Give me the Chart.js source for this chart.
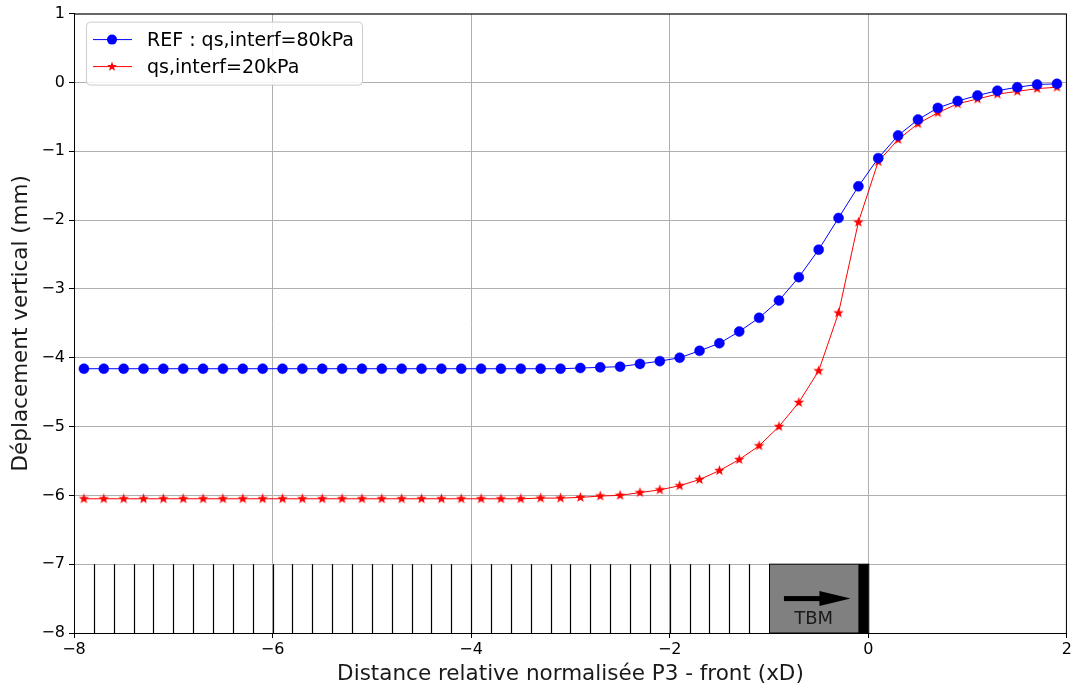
<!DOCTYPE html>
<html lang="fr">
<head>
<meta charset="utf-8">
<title>Déplacement vertical</title>
<script src="https://cdn.jsdelivr.net/npm/chart.js@4.4.1/dist/chart.umd.min.js"></script>
<style>
  html, body { margin: 0; padding: 0; background: #fff; }
  canvas { display: block; }
</style>
</head>
<body>
<canvas id="grafico" width="1074" height="687"></canvas>
<script>
// Abscisses des points (xD)
const distances = [
    -7.9, -7.7, -7.5, -7.3, -7.1, -6.9, -6.7, -6.5, -6.3, -6.1,
    -5.9, -5.7, -5.5, -5.3, -5.1, -4.9, -4.7, -4.5, -4.3, -4.1,
    -3.9, -3.7, -3.5, -3.3, -3.1, -2.9, -2.7, -2.5, -2.3, -2.1,
    -1.9, -1.7, -1.5, -1.3, -1.1, -0.9, -0.7, -0.5, -0.3, -0.1,
    0.1, 0.3, 0.5, 0.7, 0.9, 1.1, 1.3, 1.5, 1.7, 1.9
];

// REF : qs,interf=80kPa
const depRef = [
    -4.16, -4.16, -4.16, -4.16, -4.16, -4.16, -4.16, -4.16, -4.16, -4.16,
    -4.16, -4.16, -4.16, -4.16, -4.16, -4.16, -4.16, -4.16, -4.16, -4.16,
    -4.16, -4.16, -4.16, -4.16, -4.16, -4.15, -4.14, -4.13, -4.09, -4.05,
    -4.00, -3.90, -3.79, -3.62, -3.42, -3.17, -2.83, -2.43, -1.97, -1.51,
    -1.10, -0.77, -0.54, -0.37, -0.27, -0.19, -0.12, -0.07, -0.03, -0.02
];

// qs,interf=20kPa
const depInterf = [
    -6.05, -6.05, -6.05, -6.05, -6.05, -6.05, -6.05, -6.05, -6.05, -6.05,
    -6.05, -6.05, -6.05, -6.05, -6.05, -6.05, -6.05, -6.05, -6.05, -6.05,
    -6.05, -6.05, -6.05, -6.04, -6.04, -6.03, -6.01, -6.00, -5.96, -5.92,
    -5.86, -5.77, -5.64, -5.48, -5.28, -5.00, -4.65, -4.19, -3.35, -2.03,
    -1.15, -0.83, -0.60, -0.44, -0.31, -0.24, -0.17, -0.13, -0.09, -0.07
];

const nomsSeries = ["REF : qs,interf=80kPa", "qs,interf=20kPa"];
const ticksX = [-8, -6, -4, -2, 0, 2];
const ticksY = [1, 0, -1, -2, -3, -4, -5, -6, -7, -8];

// Voussoirs derrière le tunnelier
const hachures = [
    -7.8, -7.6, -7.4, -7.2, -7.0, -6.8, -6.6, -6.4, -6.2, -6.0,
    -5.8, -5.6, -5.4, -5.2, -5.0, -4.8, -4.6, -4.4, -4.2, -4.0,
    -3.8, -3.6, -3.4, -3.2, -3.0, -2.8, -2.6, -2.4, -2.2, -2.0,
    -1.8, -1.6, -1.4, -1.2
];
const tbm = { debut: -1, fin: 0, bouclier: -0.1, bas: -8, haut: -7 };
const fleche = { x1: -0.85, x2: -0.18, y: -7.5 };

const police = "'DejaVu Sans', sans-serif";

function moins(v) {
    return String(v).replace("-", "\u2212");
}

function creerEtoile(rayon, couleur) {
    const c = document.createElement("canvas");
    const taille = Math.ceil(rayon * 2 + 2);
    c.width = taille;
    c.height = taille;
    const g = c.getContext("2d");
    tracerEtoile(g, taille / 2, taille / 2, rayon, couleur);
    return c;
}

function tracerEtoile(g, cx, cy, r, couleur) {
    g.beginPath();
    for (let i = 0; i < 10; i++) {
        const rr = i % 2 === 0 ? r : r * 0.42;
        const a = -Math.PI / 2 + i * Math.PI / 5;
        const px = cx + rr * Math.cos(a);
        const py = cy + rr * Math.sin(a);
        if (i === 0) g.moveTo(px, py); else g.lineTo(px, py);
    }
    g.closePath();
    g.fillStyle = couleur;
    g.fill();
}

const etoile = creerEtoile(5.5, "#ff0000");

const decor = {
    id: "decor",
    beforeDatasetsDraw(chart) {
        const { ctx, scales: { x, y } } = chart;
        const yb = y.getPixelForValue(tbm.bas);
        const yh = y.getPixelForValue(tbm.haut);
        ctx.save();
        // hachures
        ctx.strokeStyle = "#000";
        ctx.lineWidth = 1.2;
        hachures.forEach(v => {
            const px = Math.round(x.getPixelForValue(v)) + 0.5;
            ctx.beginPath();
            ctx.moveTo(px, yh);
            ctx.lineTo(px, yb);
            ctx.stroke();
        });
        // tunnelier
        const x0 = x.getPixelForValue(tbm.debut);
        const x1 = x.getPixelForValue(tbm.fin);
        ctx.fillStyle = "#808080";
        ctx.fillRect(x0, yh, x1 - x0, yb - yh);
        ctx.strokeStyle = "#000";
        ctx.lineWidth = 1;
        ctx.strokeRect(Math.round(x0) + 0.5, yh, x1 - x0, yb - yh);
        const xb = x.getPixelForValue(tbm.bouclier);
        ctx.fillStyle = "#000";
        ctx.fillRect(xb, yh, x1 - xb, yb - yh);
        // flèche
        const fa = x.getPixelForValue(fleche.x1);
        const fb = x.getPixelForValue(fleche.x2);
        const fy = y.getPixelForValue(fleche.y);
        ctx.fillRect(fa, fy - 2.5, fb - fa - 30, 5);
        ctx.beginPath();
        ctx.moveTo(fb - 31, fy - 7.5);
        ctx.lineTo(fb, fy);
        ctx.lineTo(fb - 31, fy + 7.5);
        ctx.closePath();
        ctx.fill();
        ctx.font = "18px " + police;
        ctx.textAlign = "center";
        ctx.textBaseline = "middle";
        ctx.fillStyle = "#1a1a1a";
        ctx.fillText("TBM", x.getPixelForValue(-0.55), y.getPixelForValue(-7.8));
        ctx.restore();
    },
    afterDraw(chart) {
        const { ctx, chartArea: a } = chart;
        ctx.save();
        // cadre
        ctx.strokeStyle = "#000";
        ctx.lineWidth = 1;
        ctx.strokeRect(a.left + 0.5, a.top + 0.5, a.right - a.left - 1, a.bottom - a.top);
        // légende
        const lx = a.left + 12, ly = a.top + 8, lw = 276, lh = 63;
        ctx.beginPath();
        ctx.roundRect(lx + 0.5, ly + 0.5, lw, lh, 4);
        ctx.fillStyle = "rgba(255,255,255,0.85)";
        ctx.fill();
        ctx.strokeStyle = "#cccccc";
        ctx.stroke();
        const lignes = [
            { y: ly + 18, couleur: "#0000ff", marque: "rond" },
            { y: ly + 45, couleur: "#ff0000", marque: "etoile" }
        ];
        lignes.forEach((l, i) => {
            ctx.strokeStyle = l.couleur;
            ctx.lineWidth = 1;
            ctx.beginPath();
            ctx.moveTo(lx + 7, l.y);
            ctx.lineTo(lx + 46, l.y);
            ctx.stroke();
            if (l.marque === "rond") {
                ctx.beginPath();
                ctx.arc(lx + 26, l.y, 5, 0, Math.PI * 2);
                ctx.fillStyle = l.couleur;
                ctx.fill();
            } else {
                tracerEtoile(ctx, lx + 26, l.y, 5, l.couleur);
            }
            ctx.fillStyle = "#000";
            ctx.font = "19px " + police;
            ctx.textAlign = "left";
            ctx.textBaseline = "middle";
            ctx.fillText(nomsSeries[i], lx + 61, l.y + 1);
        });
        ctx.restore();
    }
};

function desenharGrafico() {
    const ctx = document.getElementById("grafico").getContext("2d");
    new Chart(ctx, {
        type: "line",
        data: {
            datasets: [{
                label: nomsSeries[0],
                data: distances.map((d, i) => ({ x: d, y: depRef[i] })),
                borderColor: "#0000ff",
                backgroundColor: "#0000ff",
                borderWidth: 1,
                pointRadius: 5,
                pointBorderWidth: 0.5,
                pointBackgroundColor: "#0000ff",
                pointBorderColor: "#0000ff",
                tension: 0
            }, {
                label: nomsSeries[1],
                data: distances.map((d, i) => ({ x: d, y: depInterf[i] })),
                borderColor: "#ff0000",
                backgroundColor: "#ff0000",
                borderWidth: 1,
                pointStyle: etoile,
                tension: 0
            }]
        },
        options: {
            responsive: false,
            animation: false,
            devicePixelRatio: 1,
            layout: { padding: { left: 0, top: 12, right: 6, bottom: 0 } },
            plugins: {
                legend: { display: false },
                tooltip: { enabled: false }
            },
            scales: {
                x: {
                    type: "linear",
                    min: -8,
                    max: 2,
                    afterBuildTicks: axe => { axe.ticks = ticksX.map(v => ({ value: v })); },
                    afterFit: axe => { axe.height = 54; },
                    ticks: {
                        color: "#000",
                        font: { family: police, size: 16 },
                        padding: 2,
                        maxRotation: 0,
                        callback: v => moins(v)
                    },
                    grid: { color: "#b0b0b0", lineWidth: 1, tickLength: 5, tickColor: "#000" },
                    border: { color: "#000", width: 1 },
                    title: {
                        display: true,
                        text: "Distance relative normalisée P3 - front (xD)",
                        color: "#1a1a1a",
                        font: { family: police, size: 21.5 },
                        padding: { top: 0, bottom: 0 }
                    }
                },
                y: {
                    min: -8,
                    max: 1,
                    afterBuildTicks: axe => { axe.ticks = ticksY.map(v => ({ value: v })); },
                    afterFit: axe => { axe.width = 74; },
                    ticks: {
                        color: "#000",
                        font: { family: police, size: 16 },
                        padding: 4,
                        callback: v => moins(v)
                    },
                    grid: { color: "#b0b0b0", lineWidth: 1, tickLength: 5, tickColor: "#000" },
                    border: { color: "#000", width: 1 },
                    title: {
                        display: true,
                        text: "Déplacement vertical (mm)",
                        color: "#1a1a1a",
                        font: { family: police, size: 21.5 },
                        padding: { top: 9, bottom: 0 }
                    }
                }
            }
        },
        plugins: [decor]
    });
}

window.onload = () => {
    desenharGrafico();
};
</script>
</body>
</html>
